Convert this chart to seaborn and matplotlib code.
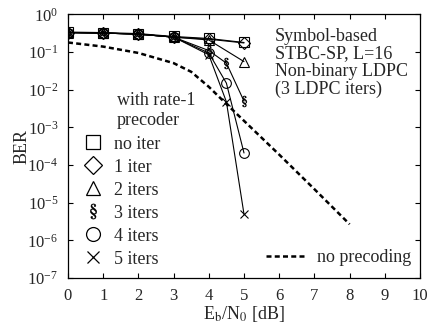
import numpy as np
import pandas as pd
import matplotlib
matplotlib.use("Agg")
import matplotlib.pyplot as plt
from matplotlib.lines import Line2D
import seaborn as sns

# ---- data ----
x_base = [0, 1, 2, 3, 4, 5]
x_ext = [0, 1, 2, 3, 4, 4.5, 5]
ber_no_iter = [0.34, 0.33, 0.31, 0.26, 0.23, 0.18]
ber_1_iter = [0.33, 0.32, 0.30, 0.25, 0.22, 0.175]
ber_2_iters = [0.33, 0.32, 0.30, 0.25, 0.21, 0.056]
ber_3_iters = [0.33, 0.32, 0.30, 0.25, 0.11, 0.051, 0.005]
ber_4_iters = [0.33, 0.32, 0.30, 0.25, 0.095, 0.015, 2.1e-4]
ber_5_iters = [0.33, 0.32, 0.30, 0.25, 0.085, 0.0048, 5e-6]
x_noprec = [0, 1, 2, 3, 3.5, 4, 4.5, 5, 6, 7, 8]
ber_noprec = [0.18, 0.14, 0.095, 0.051, 0.03, 0.012, 0.0042, 0.0015, 1.9e-4, 2.3e-5, 2.7e-6]
labels = ["no iter", "1 iter", "2 iters", "3 iters", "4 iters", "5 iters"]
x_ticks = list(range(0, 11))

FS = 13
TFS = 12

sns.set_style("ticks")
plt.rcParams["font.family"] = ["Liberation Serif", "DejaVu Serif"]
plt.rcParams["mathtext.fontset"] = "stix"
plt.rcParams["xtick.direction"] = "in"
plt.rcParams["ytick.direction"] = "in"

fig = plt.figure(figsize=(4.33, 3.28), dpi=100)
ax = fig.add_axes([0.157, 0.152, 0.813, 0.804])

series = [
    (x_base, ber_no_iter, "s", 7),
    (x_base, ber_1_iter, "D", 6),
    (x_base, ber_2_iters, "^", 7),
    (x_ext, ber_3_iters, r"$\S$", 8),
    (x_ext, ber_4_iters, "o", 7),
    (x_ext, ber_5_iters, "x", 6),
]
handles = []
for (xs, ys, mk, ms), lab in zip(series, labels):
    df = pd.DataFrame({"x": xs, "y": ys})
    filled = mk.startswith("$")
    sns.lineplot(data=df, x="x", y="y", ax=ax, color="black", lw=0.8,
                 marker=mk, markersize=ms,
                 markerfacecolor=("black" if filled else "none"),
                 markeredgecolor="black", markeredgewidth=(0.3 if filled else 0.8),
                 legend=False)
    handles.append(Line2D([], [], linestyle="none", marker=mk, markersize=ms + 3,
                          markerfacecolor=("black" if filled else "none"),
                          markeredgecolor="black",
                          markeredgewidth=(0.3 if filled else 0.9)))

df_np = pd.DataFrame({"x": x_noprec, "y": ber_noprec})
sns.lineplot(data=df_np, x="x", y="y", ax=ax, color="black", lw=1.8,
             linestyle=(0, (2, 1.3)), legend=False)

ax.set_yscale("log")
ax.set_xlim(0, 10)
ax.set_ylim(1e-7, 1)
ax.set_xticks(x_ticks)
ax.set_yticks([10.0 ** k for k in range(-7, 1)])
ax.tick_params(which="both", top=True, right=True, labelsize=TFS, color="black")
ax.tick_params(which="major", length=3.5, width=0.8, pad=7)
ax.tick_params(which="minor", length=2, width=0.6)
for s in ax.spines.values():
    s.set_color("black")
    s.set_linewidth(0.9)
ax.set_xlabel(r"E$_\mathrm{b}$/N$_0$ [dB]", fontsize=FS, labelpad=0)
ax.set_ylabel("BER", fontsize=FS, labelpad=-2)

leg1 = ax.legend(handles, labels, loc="upper left", bbox_to_anchor=(0.041, 0.54),
                 frameon=False, fontsize=FS, handlelength=1.15, handletextpad=0.6,
                 labelspacing=0.33, borderaxespad=0, borderpad=0)
ax.add_artist(leg1)
ax.text(0.139, 0.705, "with rate-1\nprecoder", transform=ax.transAxes, fontsize=FS,
        va="top", ha="left", linespacing=1.25)

h2 = [Line2D([], [], color="black", lw=1.8, linestyle=(0, (2, 1.3)))]
ax.legend(h2, ["no precoding"], loc="lower right", bbox_to_anchor=(0.975, 0.045),
          frameon=False, fontsize=FS, handlelength=2.2, handletextpad=0.6,
          borderaxespad=0, borderpad=0)

ax.text(0.588, 0.95, "Symbol-based\nSTBC-SP, L=16\nNon-binary LDPC\n(3 LDPC iters)",
        transform=ax.transAxes, fontsize=FS, va="top", ha="left", linespacing=1.05)

fig.savefig("out.png", dpi=100)
